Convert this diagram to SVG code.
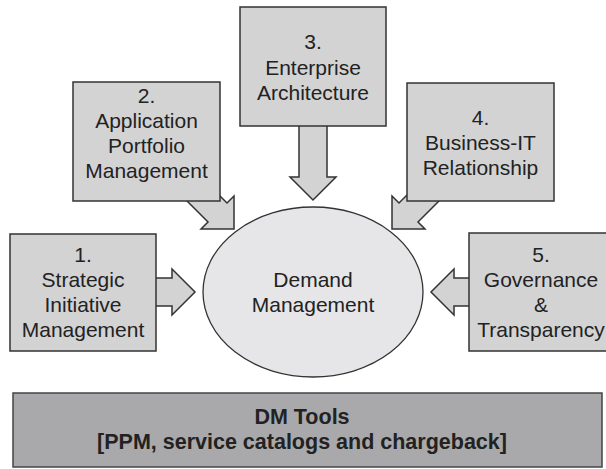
<svg xmlns="http://www.w3.org/2000/svg" width="606" height="469" viewBox="0 0 606 469">
<style>
.box{fill:#d3d3d4;stroke:#333;stroke-width:1.5}
.arr{fill:#d3d3d4;stroke:#333;stroke-width:1.5;stroke-linejoin:miter}
.ell{fill:#e6e6e8;stroke:#333;stroke-width:1.3}
.bar{fill:#a9a9ab;stroke:#444;stroke-width:1.5}
text{font-family:"Liberation Sans",Arial,sans-serif;font-size:21px;fill:#222;text-anchor:middle}
.b{font-weight:bold;font-size:21.5px}
</style>
<rect width="606" height="469" fill="#fff"/>
<g id="connectors">
<polygon class="arr" points="299,120 299,177 290,177 313,200 336,177 327,177 327,120"/>
<polygon class="arr" points="150,278 172,278 172,269 195,292 172,315 172,306 150,306"/>
<polygon class="arr" points="475,278 454,278 454,269 431,292 454,315 454,306 475,306"/>
<polygon class="arr" points="170,184 208,222 201,229 234,229 234,196 227,203 189,165"/>
<polygon class="arr" points="456,184 418,222 425,229 392,229 392,196 399,203 437,165"/>
</g>
<g id="node3">
<rect class="box" x="240" y="7" width="146" height="119"/>
<text x="313" y="49">3.</text>
<text x="313" y="75">Enterprise</text>
<text x="313" y="100">Architecture</text>
</g>
<g id="node2">
<rect class="box" x="73" y="82" width="147" height="119"/>
<text x="146.5" y="103">2.</text>
<text x="146.5" y="128">Application</text>
<text x="146.5" y="153">Portfolio</text>
<text x="146.5" y="178">Management</text>
</g>
<g id="node4">
<rect class="box" x="407" y="83" width="147" height="118"/>
<text x="480.5" y="125">4.</text>
<text x="480.5" y="150">Business-IT</text>
<text x="480.5" y="175">Relationship</text>
</g>
<g id="node1">
<rect class="box" x="10" y="234" width="146" height="117"/>
<text x="83" y="262">1.</text>
<text x="83" y="287">Strategic</text>
<text x="83" y="312">Initiative</text>
<text x="83" y="337">Management</text>
</g>
<g id="node5">
<rect class="box" x="469" y="233" width="146" height="118"/>
<text x="541" y="262">5.</text>
<text x="541" y="287">Governance</text>
<text x="541" y="312">&amp;</text>
<text x="541" y="337">Transparency</text>
</g>
<g id="center">
<ellipse class="ell" cx="313" cy="292" rx="110" ry="85"/>
<text x="313" y="287">Demand</text>
<text x="313" y="312">Management</text>
</g>
<g id="tools">
<rect class="bar" x="13" y="393" width="589" height="74"/>
<text class="b" x="302" y="424">DM Tools</text>
<text class="b" x="302" y="449">[PPM, service catalogs and chargeback]</text>
</g>
</svg>
